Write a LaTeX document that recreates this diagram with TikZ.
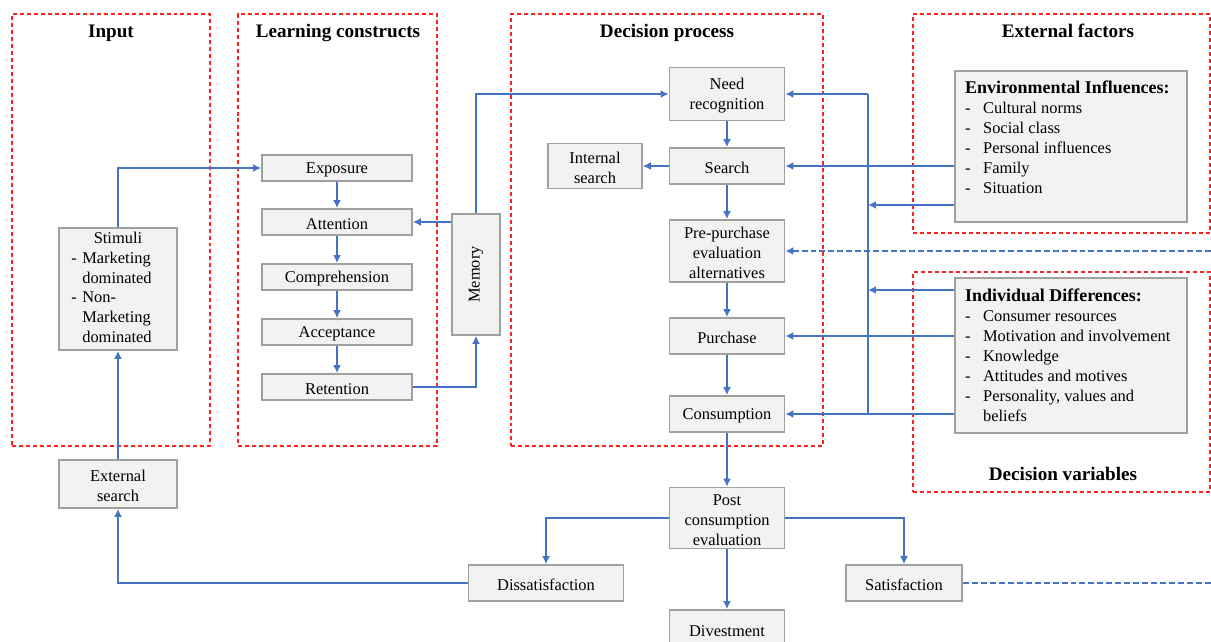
\documentclass[tikz,border=0pt]{standalone}
\usepackage{fontspec}
\usepackage{graphicx}
\setmainfont{Liberation Serif}
\usetikzlibrary{arrows.meta}
\definecolor{flow}{HTML}{4472C4}
\definecolor{boxfill}{HTML}{F2F2F2}
\definecolor{boxline}{HTML}{A0A0A0}
\definecolor{frameRed}{HTML}{FF2020}
% extra head room above the first text line of a box
\newcommand{\toproom}{\rule{0pt}{15pt}}
\begin{document}
\begin{tikzpicture}[x=1bp,y=-1bp,
  box/.style={draw=boxline, fill=boxfill, line width=1.8pt, inner sep=0pt,
    align=center, font=\fontsize{16.5}{20}\selectfont,
    execute at begin node={\toproom}},
  frame/.style={draw=frameRed, line width=1.2pt, dash pattern=on 4pt off 3pt, inner sep=0pt},
  grouptitle/.style={anchor=base, inner sep=0pt, font=\fontsize{19.2}{22}\selectfont\bfseries},
  listtext/.style={anchor=north west, inner sep=0pt, align=left, font=\fontsize{16.5}{20}\selectfont},
  link/.style={draw=flow, line width=2pt},
  arr/.style={link, -{Latex[length=8pt,width=8pt]}},
  dashlink/.style={dash pattern=on 6pt off 3pt}
]
\useasboundingbox (0,0) rectangle (1211,642);

% dashed group frames
\node[frame, minimum width=198bp, minimum height=432bp] (fin)  at (111,230) {};
\node[frame, minimum width=199bp, minimum height=432bp] (flc)  at (337.5,230) {};
\node[frame, minimum width=312bp, minimum height=432bp] (fdp)  at (667,230) {};
\node[frame, minimum width=297bp, minimum height=219bp] (fext) at (1061.5,123.5) {};
\node[frame, minimum width=297bp, minimum height=220bp] (fdv)  at (1061.5,382) {};

\node[grouptitle] (tin)  at (111,38) {Input};
\node[grouptitle] (tlc)  at (338,38) {Learning constructs};
\node[grouptitle] (tdp)  at (667,38) {Decision process};
\node[grouptitle] (tef)  at (1068,38) {External factors};
\node[grouptitle] (tdv)  at (1063,480) {Decision variables};

% input column
\node[box, minimum width=118bp, minimum height=122bp] (stimuli) at (118,289)
  {\raisebox{-2.5pt}{\begin{tabular}{@{}l@{\hspace{5.5pt}}l@{}}\multicolumn{2}{@{}l@{}}{\hspace{22.5pt}Stimuli}\\
   -&Marketing\\ &dominated\\ -&Non-\\ &Marketing\\ &dominated\end{tabular}}\hspace{13pt}};
\node[box, minimum width=118bp, minimum height=48bp] (extsearch) at (118,484) {\toproom External\\search};

% learning constructs
\node[box, minimum width=150bp, minimum height=26bp] (exposure)   at (337,168) {Exposure};
\node[box, minimum width=150bp, minimum height=26bp] (attention)  at (337,222) {Attention};
\node[box, minimum width=150bp, minimum height=26bp] (compreh)    at (337,277) {Comprehension};
\node[box, minimum width=150bp, minimum height=26bp] (acceptance) at (337,332) {Acceptance};
\node[box, minimum width=150bp, minimum height=26bp] (retention)  at (337,387) {Retention};
\node[box, minimum width=48bp, minimum height=121bp] (memory) at (476,274.5) {\rotatebox{90}{Memory}};

% decision process
\node[box, minimum width=115bp, minimum height=53bp] (need)        at (727,94) {\toproom Need\\recognition};
\node[box, minimum width=115bp, minimum height=36bp] (search)      at (727,166) {Search};
\node[box, minimum width=94bp, minimum height=45bp]  (intsearch)   at (595,166) {\toproom Internal\\search};
\node[box, minimum width=115bp, minimum height=62bp] (pre)         at (727,251) {\toproom Pre-purchase\\evaluation\\alternatives};
\node[box, minimum width=115bp, minimum height=36bp] (purchase)    at (727,336) {Purchase};
\node[box, minimum width=115bp, minimum height=36bp] (consumption) at (727,414) {Consumption};
\node[box, minimum width=115bp, minimum height=61bp] (post)        at (727,518) {\toproom Post\\consumption\\evaluation};
\node[box, minimum width=155bp, minimum height=36bp] (dissat)      at (546,583) {Dissatisfaction};
\node[box, minimum width=116bp, minimum height=36bp] (sat)         at (904,583) {Satisfaction};
\node[box, minimum width=115bp, minimum height=38bp] (divest)      at (727,629) {Divestment};

% external factors and individual differences
\node[box, minimum width=232bp, minimum height=151bp] (env) at (1071,146.5) {};
\node[listtext] (envlist) at (965,79.5)
  {\begin{tabular}{@{}p{18pt}@{}l@{}}
   \multicolumn{2}{@{}l@{}}{\fontsize{18}{20}\selectfont\bfseries Environmental Influences:}\\
   -&Cultural norms\\ -&Social class\\ -&Personal influences\\ -&Family\\ -&Situation
   \end{tabular}};
\node[box, minimum width=232bp, minimum height=155bp] (ind) at (1071,355.5) {};
\node[listtext] (indlist) at (965,287.5)
  {\begin{tabular}{@{}p{18pt}@{}l@{}}
   \multicolumn{2}{@{}l@{}}{\fontsize{18}{20}\selectfont\bfseries Individual Differences:}\\
   -&Consumer resources\\ -&Motivation and involvement\\ -&Knowledge\\
   -&Attitudes and motives\\ -&Personality, values and\\ &beliefs
   \end{tabular}};

% input to learning
\draw[arr] (stimuli.north) |- (exposure.west);
\draw[arr] (extsearch.north) -- (stimuli.south);
\draw[arr] (dissat.west) -| (extsearch.south);

% learning chain
\draw[arr] (exposure.south) -- (attention.north);
\draw[arr] (attention.south) -- (compreh.north);
\draw[arr] (compreh.south) -- (acceptance.north);
\draw[arr] (acceptance.south) -- (retention.north);
\draw[arr] (memory.west |- attention) -- (attention.east);
\draw[arr] (retention.east) -| (memory.south);
\draw[arr] (memory.north) |- (need.west);

% decision chain
\draw[arr] (need.south) -- (search.north);
\draw[arr] (search.west) -- (intsearch.east);
\draw[arr] (search.south) -- (pre.north);
\draw[arr] (pre.south) -- (purchase.north);
\draw[arr] (purchase.south) -- (consumption.north);
\draw[arr] (consumption.south) -- (post.north);
\draw[arr] (post.west) -| (dissat.north);
\draw[arr] (post.east) -| (sat.north);
\draw[arr] (post.south) -- (divest.north);

% influence bus
\coordinate (busTop) at (868,0 |- need.east);
\coordinate (busBot) at (868,0 |- consumption.east);
\coordinate (busA) at (868,205);
\coordinate (busB) at (868,290);
\draw[link] (busTop) -- (busBot);
\draw[arr] (busTop) -- (need.east);
\draw[arr] (env.west |- search) -- (search.east);
\draw[arr] (env.west |- busA) -- (busA);
\draw[arr] (ind.west |- busB) -- (busB);
\draw[arr] (ind.west |- purchase) -- (purchase.east);
\draw[arr] (ind.west |- consumption) -- (consumption.east);

% feedback
\coordinate (fbIn) at (1211,0 |- pre.east);
\coordinate (fbOut) at (1211,0 |- sat.east);
\draw[arr, dashlink] (fbIn) -- (pre.east);
\draw[link, dashlink] (sat.east) -- (fbOut);
\end{tikzpicture}
\end{document}
